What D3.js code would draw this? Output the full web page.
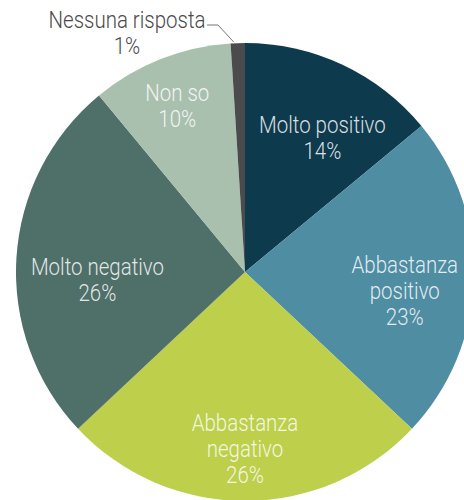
<!DOCTYPE html>
<html>
<head>
<meta charset="utf-8">
<script src="https://cdn.jsdelivr.net/npm/d3@7"></script>
<style>
  body { margin: 0; background: #fff; }
  text { font-family: Roboto, "DejaVu Sans Condensed", sans-serif; font-weight: 300; }
</style>
</head>
<body>
<div id="chart"></div>
<script>
const width = 464;
const height = 500;

// data, clockwise from 12 o'clock
const categories = ["Molto positivo", "Abbastanza positivo", "Abbastanza negativo", "Molto negativo", "Non so", "Nessuna risposta"];
const values = [14, 23, 26, 26, 10, 1];
const colors = ["#0e3a4e", "#4f8da3", "#bdcf4b", "#4f6f69", "#a9c0ae", "#4b4b4d"];
// label lines as printed
const labelLines = [
  ["Molto positivo", "14%"],
  ["Abbastanza", "positivo", "23%"],
  ["Abbastanza", "negativo", "26%"],
  ["Molto negativo", "26%"],
  ["Non so", "10%"],
  ["Nessuna risposta", "1%"]
];

const cx = 245, cy = 272, radius = 229;
const fontSize = 23, squeeze = 0.89, lineH = 26;

const svg = d3.select("#chart")
  .append("svg")
  .attr("width", width)
  .attr("height", height);

const g = svg.append("g")
  .attr("transform", `translate(${cx},${cy})`);

const pie = d3.pie().sort(null).value(d => d);
const arcs = pie(values);

const arc = d3.arc().innerRadius(0).outerRadius(radius);

g.selectAll("path")
  .data(arcs)
  .enter()
  .append("path")
  .attr("d", arc)
  .attr("fill", (d, i) => colors[i]);

// labels sit near the centroid at 0.65 r, nudged a bit by hand
const labelArc = d3.arc().innerRadius(radius * 0.65).outerRadius(radius * 0.65);
const labelShift = [[14, 9], [11, 22], [0, 36], [1, 25], [-13, -20]];

function drawLabel(x, y, lines, fill) {
  // y is the middle baseline of the block; text squeezed horizontally
  const t = g.append("text")
    .attr("text-anchor", "middle")
    .attr("font-size", fontSize + "px")
    .attr("fill", fill)
    .attr("transform", `translate(${x},${y}) scale(${squeeze},1)`);
  lines.forEach((l, j) => {
    t.append("tspan")
      .attr("x", 0)
      .attr("y", (j - (lines.length - 1) / 2) * lineH)
      .text(l);
  });
}

arcs.forEach((d, i) => {
  if (i === 5) return; // small slice labelled outside
  const [x, y] = labelArc.centroid(d);
  drawLabel(x + labelShift[i][0], y + labelShift[i][1], labelLines[i], "rgba(255,255,255,0.85)");
});

// outside label for the 1% slice, with leader line
const small = arcs[5];
const mid = (small.startAngle + small.endAngle) / 2;
const edge = [Math.sin(mid) * radius, -Math.cos(mid) * radius];
g.append("polyline")
  .attr("points", [[edge[0] - 4, edge[1] - 1], [-27, -247], [-38, -247]].map(p => p.join(",")).join(" "))
  .attr("fill", "none")
  .attr("stroke", "#777")
  .attr("stroke-width", 1);

drawLabel(-118, -231, labelLines[5], "#4a4a4a");
</script>
</body>
</html>
